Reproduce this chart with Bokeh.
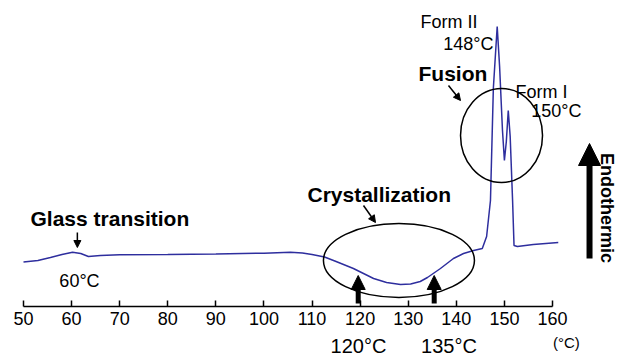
import math
from bokeh.plotting import figure
from bokeh.models import Label, Arrow, NormalHead, Range1d, FixedTicker, LinearAxis
from bokeh.embed import file_html
from bokeh.resources import INLINE

# DSC thermogram, heat flow in arbitrary units (endothermic up)
temperature = [50, 53, 55.6, 58, 60.2, 61.9, 63.5, 66, 70, 80, 90, 100, 105.5, 108, 110,
               112.6, 115, 118.6, 122.8, 125.5, 128.4, 130.5, 132.5, 134, 136.7, 139.4,
               141.5, 143.6, 145.4, 146.3, 147.1, 147.7, 148.5, 149.0, 149.6, 150.0,
               150.4, 150.8, 151.2, 151.7, 152.0, 152.7, 156, 161.2]
heat_flow = [44.5, 46, 49, 52, 54.3, 53, 50, 51, 51.7, 52, 52.5, 53.3, 54.3, 53.5, 52,
             49.5, 45, 38, 28, 24, 22, 22.5, 25, 29, 38, 48,
             53, 56, 58, 70, 106, 218, 280, 240, 176, 146,
             165, 196, 170, 106, 61, 60, 62, 64]

tick_values = [50, 60, 70, 80, 90, 100, 110, 120, 130, 140, 150, 160]

# annotated events
glass_T = 61.2
cryst_T = [119.6, 135.4]
cryst_labels = ["120°C", "135°C"]
form2_label = ["Form II", "148°C"]
form1_label = ["Form I", "150°C"]

FONT = "Liberation Sans"

p = figure(width=618, height=357, x_range=Range1d(45.2174, 173.724), y_range=Range1d(-51, 306),
           output_backend="svg", toolbar_location=None, x_axis_location=None,
           y_axis_location=None, min_border=0)
p.xgrid.visible = False
p.ygrid.visible = False
p.outline_line_color = None
p.background_fill_color = "white"
p.border_fill_color = "white"

ax = LinearAxis(fixed_location=0, bounds=(50, 160), ticker=FixedTicker(ticks=tick_values))
ax.minor_tick_line_color = None
ax.major_tick_in = 6
ax.major_tick_out = 0
ax.major_tick_line_width = 1.5
ax.major_tick_line_color = "black"
ax.axis_line_width = 1.5
ax.axis_line_color = "black"
ax.major_label_standoff = 5
ax.major_label_text_font = FONT
ax.major_label_text_font_size = "18px"
ax.major_label_text_color = "black"
p.add_layout(ax, "below")

p.line(temperature, heat_flow, line_color="#2e2e9e", line_width=1.5)

# ellipses
p.ellipse(x=[128.07], y=[46], width=[31.4], height=[74], fill_color=None,
          line_color="black", line_width=1.5)
p.ellipse(x=[149.4], y=[171], width=[17.05], height=[94], fill_color=None,
          line_color="black", line_width=1.5)

def lab(x, y, text, size, bold=False, align="left", baseline="middle", angle=0.0):
    p.add_layout(Label(x=x, y=y, text=text, text_font=FONT, text_font_size=size,
                       text_font_style="bold" if bold else "normal", text_color="black",
                       text_align=align, text_baseline=baseline, angle=angle))

lab(51.46, 88.5, "Glass transition", "21px", bold=True)
lab(61.64, 26, "60°C", "18px", align="center")
lab(109.05, 112, "Crystallization", "21px", bold=True)
lab(132.14, 233, "Fusion", "21px", bold=True)
lab(132.55, 285, form2_label[0], "18px")
lab(147.73, 263, form2_label[1], "18px", align="right")
lab(152.3, 215, form1_label[0], "18px")
lab(155.6, 195.5, form1_label[1], "18px")
lab(119.66, -39.5, cryst_labels[0], "20px", align="center")
lab(138.48, -39.5, cryst_labels[1], "20px", align="center")
lab(162.9, -35.5, "(°C)", "15px", align="center")
lab(171.3, 98.5, "Endothermic", "18px", bold=True, align="center",
    baseline="alphabetic", angle=-math.pi / 2)

def arrow(x0, y0, x1, y1, width, head):
    p.add_layout(Arrow(end=NormalHead(size=head, fill_color="black", line_color="black"),
                       x_start=x0, y_start=y0, x_end=x1, y_end=y1,
                       line_width=width, line_color="black"))

arrow(glass_T, 74, glass_T, 59, 1.5, 7)
arrow(120.70, 101, 123.19, 84, 1.5, 7)
arrow(138.37, 221, 140.87, 206, 1.5, 7)
for t in cryst_T:
    arrow(t, 3, t, 31, 5, 14)
arrow(167.7, 48, 167.7, 163, 6, 22)

open("out.html", "w").write(file_html(p, INLINE))
